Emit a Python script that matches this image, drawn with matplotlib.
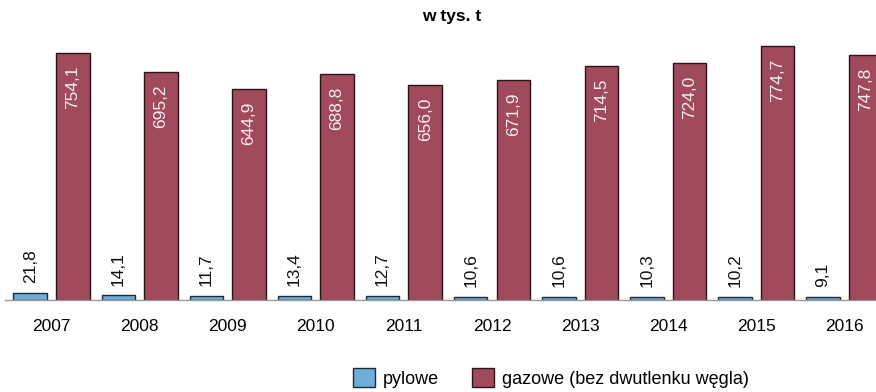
import numpy as np
import matplotlib
matplotlib.use("Agg")
import matplotlib.pyplot as plt
from matplotlib.patches import Patch

years = ["2007", "2008", "2009", "2010", "2011", "2012", "2013", "2014", "2015", "2016"]
pylowe = [21.8, 14.1, 11.7, 13.4, 12.7, 10.6, 10.6, 10.3, 10.2, 9.1]
gazowe = [754.1, 695.2, 644.9, 688.8, 656.0, 671.9, 714.5, 724.0, 774.7, 747.8]

BLUE = "#6fadd9"
RED = "#a14a5c"

plt.rcParams['font.family'] = ['Liberation Sans', 'DejaVu Sans']

fig = plt.figure(figsize=(8.76, 3.92), dpi=100)
ax = fig.add_axes([5 / 876, 92 / 392, 871 / 876, 262 / 392])

x = np.arange(len(years))
w = 0.38
off = 0.242

b1 = ax.bar(x - off, pylowe, w, color=BLUE, edgecolor="#1c2a3a", linewidth=1.0)
b2 = ax.bar(x + off, gazowe, w, color=RED, edgecolor="#2a1418", linewidth=1.0)

def fmt(v):
    return f"{v:.1f}".replace(".", ",")

for xi, v in zip(x, pylowe):
    ax.annotate(fmt(v), (xi - off, v), xytext=(0, 7), textcoords="offset points",
                rotation=90, ha="center", va="bottom", fontsize=12.5, color="#111111")

for xi, v in zip(x, gazowe):
    ax.annotate(fmt(v), (xi + off, v), xytext=(0, -9), textcoords="offset points",
                rotation=90, ha="center", va="top", fontsize=12.5, color="#f4eef0")

ax.set_xlim(-0.528, 9.359)
ax.set_ylim(0, 800)
ax.set_xticks(x)
ax.set_xticklabels(years, fontsize=12.5)
ax.tick_params(axis="x", length=0, pad=14)
ax.set_yticks([])
for s in ["top", "right", "left"]:
    ax.spines[s].set_visible(False)
ax.spines["bottom"].set_color("#9a9a9a")
ax.spines["bottom"].set_linewidth(1.0)

fig.text(452 / 876, 1 - 16 / 392, "w tys. t", ha="center", va="center",
         fontsize=12.5, fontweight="bold")

handles = [Patch(facecolor=BLUE, edgecolor="#1c2a3a"),
           Patch(facecolor=RED, edgecolor="#2a1418")]
fig.legend(handles, ["pylowe", "gazowe (bez dwutlenku węgla)"], loc="center",
           bbox_to_anchor=(551 / 876, 1 - 378 / 392), ncol=2, frameon=False,
           fontsize=13, handlelength=1.2, handleheight=1.2, columnspacing=1.8,
           handletextpad=0.45)

fig.savefig("out.png", dpi=100, facecolor="white")
